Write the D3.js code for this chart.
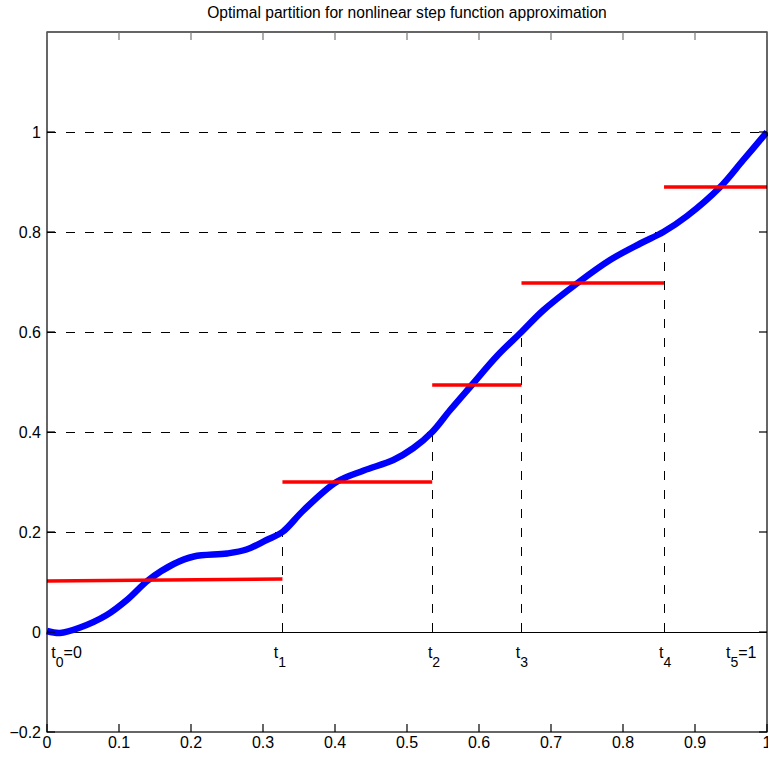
<!DOCTYPE html>
<html>
<head>
<meta charset="utf-8">
<script src="https://cdn.jsdelivr.net/npm/d3@7"></script>
<style>
  body { margin: 0; background: #fff; }
  svg { display: block; font-family: "Liberation Sans", Arial, sans-serif; }
</style>
</head>
<body>
<div id="chart"></div>
<script>
// curve samples
const curveX = [0, 0.018, 0.046, 0.083, 0.111, 0.141, 0.176, 0.204, 0.25, 0.277, 0.305, 0.327, 0.356, 0.402, 0.44, 0.481, 0.509, 0.535, 0.56, 0.59, 0.625, 0.659, 0.689, 0.736, 0.782, 0.824, 0.856, 0.889, 0.935, 0.967, 1];
const curveY = [0.002, -0.002, 0.009, 0.034, 0.064, 0.104, 0.136, 0.151, 0.157, 0.165, 0.184, 0.2, 0.243, 0.3, 0.323, 0.344, 0.368, 0.4, 0.444, 0.494, 0.552, 0.6, 0.643, 0.697, 0.744, 0.777, 0.8, 0.832, 0.89, 0.944, 1];

// partition points t0..t5 and the curve value at each
const breaks = [0, 0.327, 0.535, 0.659, 0.857, 1];
const levels = [0, 0.2, 0.4, 0.6, 0.8, 1];

// red step values (left and right end of each piece)
const stepLeft = [0.102, 0.30, 0.494, 0.698, 0.89];
const stepRight = [0.106, 0.30, 0.494, 0.698, 0.89];

// t labels under the axis
const tNames = ["0", "1", "2", "3", "4", "5"];
const tSuffix = ["=0", "", "", "", "", "=1"];
const tLabelX = [0.006, 0.315, 0.529, 0.651, 0.85, 0.943];

const xTicks = [0, 0.1, 0.2, 0.3, 0.4, 0.5, 0.6, 0.7, 0.8, 0.9, 1];
const yTicks = [-0.2, 0, 0.2, 0.4, 0.6, 0.8, 1];

const width = 768, height = 761;
const margin = {top: 32, right: 1, bottom: 29, left: 47};

const x = d3.scaleLinear().domain([0, 1]).range([margin.left, width - margin.right]);
const y = d3.scaleLinear().domain([-0.2, 1.2]).range([height - margin.bottom, margin.top]);

const svg = d3.select("#chart").append("svg")
    .attr("width", width)
    .attr("height", height);

// title
svg.append("text")
    .attr("x", (x(0) + x(1)) / 2)
    .attr("y", 18)
    .attr("text-anchor", "middle")
    .attr("font-size", 15.6)
    .text("Optimal partition for nonlinear step function approximation");

const dash = "9,10";
const guides = svg.append("g")
    .attr("stroke", "#000")
    .attr("stroke-width", 1)
    .attr("stroke-dasharray", dash)
    .attr("fill", "none");

// horizontal dashed guides from the y axis to each t_i
guides.selectAll("line.h")
    .data(d3.range(1, breaks.length))
    .join("line")
    .attr("class", "h")
    .attr("x1", x(0))
    .attr("x2", i => x(breaks[i]))
    .attr("y1", i => Math.round(y(levels[i])) + 0.5)
    .attr("y2", i => Math.round(y(levels[i])) + 0.5);

// vertical dashed guides from 0 up to the curve
guides.selectAll("line.v")
    .data(d3.range(1, breaks.length - 1))
    .join("line")
    .attr("class", "v")
    .attr("x1", i => Math.round(x(breaks[i])) + 0.5)
    .attr("x2", i => Math.round(x(breaks[i])) + 0.5)
    .attr("y1", y(0))
    .attr("y2", i => y(levels[i]));

// solid zero line
svg.append("line")
    .attr("x1", x(0)).attr("x2", x(1))
    .attr("y1", Math.round(y(0)) + 0.5).attr("y2", Math.round(y(0)) + 0.5)
    .attr("stroke", "#000");

// blue curve
const line = d3.line()
    .x(i => x(curveX[i]))
    .y(i => y(curveY[i]))
    .curve(d3.curveCatmullRom.alpha(0.5));

svg.append("path")
    .attr("d", line(d3.range(curveX.length)))
    .attr("fill", "none")
    .attr("stroke", "#0000ff")
    .attr("stroke-width", 6.5)
    .attr("stroke-linejoin", "round");

// red step pieces
svg.append("g")
    .attr("stroke", "#ff0000")
    .attr("stroke-width", 3.5)
    .selectAll("line")
    .data(stepLeft)
    .join("line")
    .attr("x1", (d, i) => x(breaks[i]))
    .attr("x2", (d, i) => x(breaks[i + 1]))
    .attr("y1", d => y(d))
    .attr("y2", (d, i) => y(stepRight[i]));

// frame and ticks
const frame = svg.append("g").attr("stroke", "#000").attr("stroke-width", 1.2);
frame.append("rect")
    .attr("x", x(0)).attr("y", y(1.2))
    .attr("width", x(1) - x(0)).attr("height", y(-0.2) - y(1.2))
    .attr("fill", "none");

const tickLen = 8;
frame.selectAll("line.bt").data(xTicks).join("line")
    .attr("x1", d => x(d)).attr("x2", d => x(d))
    .attr("y1", y(-0.2)).attr("y2", y(-0.2) - tickLen);
frame.selectAll("line.tt").data(xTicks).join("line")
    .attr("x1", d => x(d)).attr("x2", d => x(d))
    .attr("y1", y(1.2)).attr("y2", y(1.2) + tickLen)
    .attr("stroke", "#777");
frame.selectAll("line.lt").data(yTicks).join("line")
    .attr("x1", x(0)).attr("x2", x(0) + tickLen)
    .attr("y1", d => y(d)).attr("y2", d => y(d));
frame.selectAll("line.rt").data(yTicks).join("line")
    .attr("x1", x(1)).attr("x2", x(1) - tickLen)
    .attr("y1", d => y(d)).attr("y2", d => y(d));

const fmt = d => d === 0 ? "0" : d === 1 ? "1" : d3.format(".1f")(d).replace("-", "\u2212");

svg.append("g")
    .attr("font-size", 16)
    .attr("text-anchor", "middle")
    .selectAll("text")
    .data(xTicks)
    .join("text")
    .attr("x", d => x(d))
    .attr("y", y(-0.2) + 16)
    .text(fmt);

svg.append("g")
    .attr("font-size", 16)
    .attr("text-anchor", "end")
    .selectAll("text")
    .data(yTicks)
    .join("text")
    .attr("x", x(0) - 6)
    .attr("y", d => y(d) + 6)
    .text(fmt);

// t_i labels
const tl = svg.append("g")
    .attr("font-size", 16)
    .selectAll("text")
    .data(tNames)
    .join("text")
    .attr("x", (d, i) => x(tLabelX[i]))
    .attr("y", y(0) + 26);
tl.append("tspan").text("t");
tl.append("tspan").attr("dy", 9).attr("font-size", 14).text(d => d);
tl.append("tspan").attr("dy", -9).text((d, i) => tSuffix[i]);
</script>
</body>
</html>
